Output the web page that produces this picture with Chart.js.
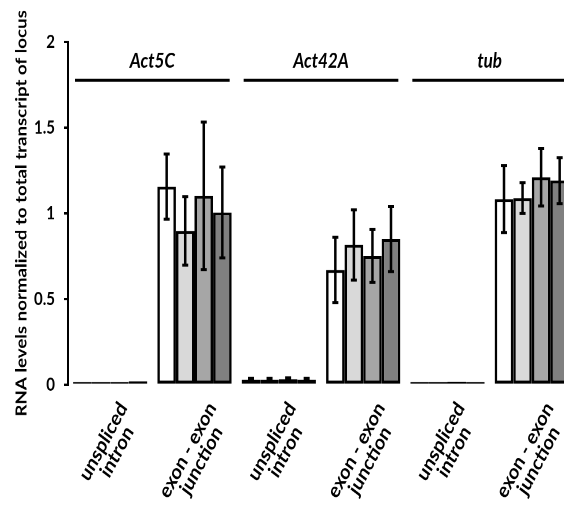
<!DOCTYPE html>
<html lang="en">
<head>
<meta charset="UTF-8">
<title>RNA levels per locus</title>
<script src="https://cdn.jsdelivr.net/npm/chart.js"></script>
<style>
  body { margin: 0; background: #ffffff; }
  #frame { width: 564px; height: 513px; overflow: hidden; position: relative; }
  /* figure was exported with a taller aspect, so stretch the canvas vertically */
  #wrap { width: 580px; height: 428px; transform: scaleY(1.1986); transform-origin: 0 0; }
</style>
</head>
<body>
<div id="frame"><div id="wrap"><canvas id="chart" width="580" height="428"></canvas></div></div>
<script>
// x categories: two amplicons per locus
const categories = [
    ['unspliced', 'intron'], ['exon - exon', 'junction'],
    ['unspliced', 'intron'], ['exon - exon', 'junction'],
    ['unspliced', 'intron'], ['exon - exon', 'junction']
];
const genes = ['Act5C', 'Act42A', 'tub'];
const yTicks = [0, 0.5, 1, 1.5, 2];

// bar heights per sample
const sample1 = [0.017, 1.156, 0.030, 0.670, 0.017, 1.083];
const sample2 = [0.017, 0.898, 0.030, 0.816, 0.017, 1.089];
const sample3 = [0.017, 1.102, 0.032, 0.752, 0.018, 1.211];
const sample4 = [0.020, 1.005, 0.030, 0.850, 0.017, 1.191];

// standard deviations
const err1 = [0, 0.190, 0.008, 0.190, 0, 0.195];
const err2 = [0, 0.200, 0.008, 0.205, 0, 0.090];
const err3 = [0, 0.430, 0.008, 0.155, 0, 0.168];
const err4 = [0, 0.265, 0.008, 0.190, 0, 0.134];

const fills = ['#ffffff', '#d9d9d9', '#a6a6a6', '#808080'];
const font = 'Lato, "Open Sans", sans-serif';
const labelAngle = -57.5;

function barSet(label, data, errors, color) {
    return {
        label: label,
        data: data,
        errors: errors,
        backgroundColor: color,
        borderColor: '#000000',
        borderWidth: 2.5,
        borderSkipped: false,
        categoryPercentage: 0.88,
        barPercentage: 1.0
    };
}

// whiskers with caps on every bar
const errorBars = {
    id: 'errorBars',
    afterDatasetsDraw(chart) {
        const ctx = chart.ctx;
        const y = chart.scales.y;
        ctx.save();
        ctx.strokeStyle = '#000000';
        ctx.lineWidth = 2.5;
        chart.data.datasets.forEach((ds, i) => {
            chart.getDatasetMeta(i).data.forEach((bar, j) => {
                const err = ds.errors[j];
                if (!err) return;
                const top = y.getPixelForValue(ds.data[j] + err);
                const bot = y.getPixelForValue(Math.max(0, ds.data[j] - err));
                ctx.beginPath();
                ctx.moveTo(bar.x, top);
                ctx.lineTo(bar.x, bot);
                ctx.moveTo(bar.x - 3, top);
                ctx.lineTo(bar.x + 3, top);
                ctx.moveTo(bar.x - 3, bot);
                ctx.lineTo(bar.x + 3, bot);
                ctx.stroke();
            });
        });
        ctx.restore();
    }
};

// rotated two-line category labels, lines centred on each other,
// block centred under the tick with its top just below the axis
const xLabels = {
    id: 'xLabels',
    afterDraw(chart) {
        const ctx = chart.ctx;
        const x = chart.scales.x;
        const size = 17.5;
        const lh = 16;
        const a = labelAngle * Math.PI / 180;
        ctx.save();
        ctx.font = 'bold ' + size + 'px ' + font;
        ctx.fillStyle = '#000000';
        ctx.textAlign = 'center';
        ctx.textBaseline = 'middle';
        categories.forEach((lines, i) => {
            const maxW = Math.max(...lines.map(t => ctx.measureText(t).width));
            const halfH = lines.length * lh / 2;
            const halfY = Math.abs(maxW / 2 * Math.sin(a)) + Math.abs(halfH * Math.cos(a));
            ctx.save();
            ctx.translate(x.getPixelForTick(i), x.top + 12 + halfY);
            ctx.rotate(a);
            lines.forEach((t, k) => ctx.fillText(t, 0, (k - (lines.length - 1) / 2) * lh));
            ctx.restore();
        });
        ctx.restore();
    }
};

// gene name above each pair of categories, with a rule underneath
const geneHeader = {
    id: 'geneHeader',
    afterDraw(chart) {
        const ctx = chart.ctx;
        const x = chart.scales.x;
        const area = chart.chartArea;
        const step = (area.right - area.left) / categories.length;
        ctx.save();
        ctx.strokeStyle = '#000000';
        ctx.lineWidth = 2.5;
        ctx.fillStyle = '#000000';
        ctx.font = 'italic bold 17px ' + font;
        ctx.textAlign = 'center';
        ctx.textBaseline = 'middle';
        genes.forEach((g, k) => {
            const left = x.getPixelForValue(2 * k) - step / 2 + 7;
            const right = x.getPixelForValue(2 * k + 1) + step / 2 - 7;
            ctx.beginPath();
            ctx.moveTo(left, area.top + 32);
            ctx.lineTo(right, area.top + 32);
            ctx.stroke();
            ctx.fillText(g, (left + right) / 2, area.top + 16);
        });
        ctx.restore();
    }
};

new Chart(document.getElementById('chart'), {
    type: 'bar',
    data: {
        labels: categories,
        datasets: [
            barSet('1', sample1, err1, fills[0]),
            barSet('2', sample2, err2, fills[1]),
            barSet('3', sample3, err3, fills[2]),
            barSet('4', sample4, err4, fills[3])
        ]
    },
    options: {
        responsive: false,
        animation: false,
        devicePixelRatio: 2,
        layout: { padding: { top: 35, right: 6, left: 0, bottom: 0 } },
        plugins: {
            legend: { display: false },
            tooltip: { enabled: false }
        },
        scales: {
            x: {
                grid: { display: false, drawTicks: false },
                border: { display: false },
                ticks: { display: false },
                afterFit(scale) { scale.height = 107; }
            },
            y: {
                min: 0,
                max: 2,
                afterBuildTicks(scale) { scale.ticks = yTicks.map(v => ({ value: v })); },
                grid: { drawOnChartArea: false, drawTicks: true, tickLength: 4, color: '#000000', lineWidth: 2 },
                border: { display: true, color: '#000000', width: 2 },
                ticks: {
                    color: '#000000',
                    font: { family: font, size: 15, weight: 'bold' },
                    padding: 9,
                    callback: v => String(v)
                },
                title: {
                    display: true,
                    text: 'RNA levels normalized to total transcript of locus',
                    color: '#000000',
                    font: { family: font, size: 15.6, weight: 'bold' },
                    padding: { top: 12, bottom: 0 }
                },
                afterFit(scale) { scale.width = 68; }
            }
        }
    },
    plugins: [errorBars, xLabels, geneHeader]
});
</script>
</body>
</html>
